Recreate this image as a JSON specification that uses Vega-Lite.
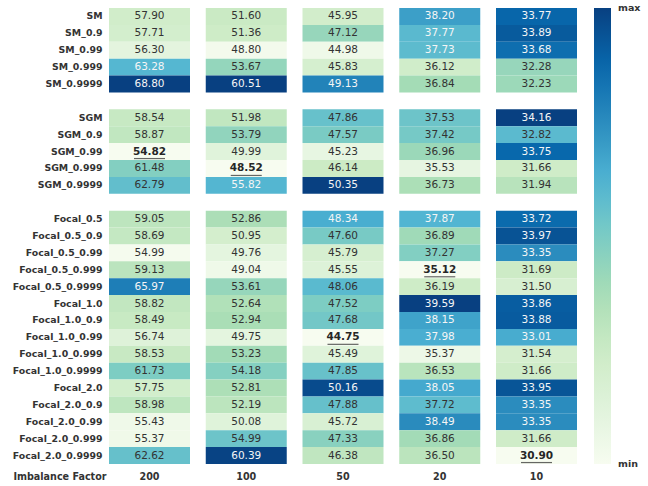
{
  "$schema": "https://vega.github.io/schema/vega-lite/v6.json",
  "padding": {"left": 12, "top": 8, "right": 5, "bottom": 5},
  "background": "white",
  "config": {"view": {"stroke": null}, "font": "DejaVu Sans"},
  "datasets": {
    "cells": [
      {"m":"SM","f":"200","v":57.90},{"m":"SM","f":"100","v":51.60},{"m":"SM","f":"50","v":45.95},{"m":"SM","f":"20","v":38.20},{"m":"SM","f":"10","v":33.77},
      {"m":"SM_0.9","f":"200","v":57.71},{"m":"SM_0.9","f":"100","v":51.36},{"m":"SM_0.9","f":"50","v":47.12},{"m":"SM_0.9","f":"20","v":37.77},{"m":"SM_0.9","f":"10","v":33.89},
      {"m":"SM_0.99","f":"200","v":56.30},{"m":"SM_0.99","f":"100","v":48.80},{"m":"SM_0.99","f":"50","v":44.98},{"m":"SM_0.99","f":"20","v":37.73},{"m":"SM_0.99","f":"10","v":33.68},
      {"m":"SM_0.999","f":"200","v":63.28},{"m":"SM_0.999","f":"100","v":53.67},{"m":"SM_0.999","f":"50","v":45.83},{"m":"SM_0.999","f":"20","v":36.12},{"m":"SM_0.999","f":"10","v":32.28},
      {"m":"SM_0.9999","f":"200","v":68.80},{"m":"SM_0.9999","f":"100","v":60.51},{"m":"SM_0.9999","f":"50","v":49.13},{"m":"SM_0.9999","f":"20","v":36.84},{"m":"SM_0.9999","f":"10","v":32.23},
      {"m":"SGM","f":"200","v":58.54},{"m":"SGM","f":"100","v":51.98},{"m":"SGM","f":"50","v":47.86},{"m":"SGM","f":"20","v":37.53},{"m":"SGM","f":"10","v":34.16},
      {"m":"SGM_0.9","f":"200","v":58.87},{"m":"SGM_0.9","f":"100","v":53.79},{"m":"SGM_0.9","f":"50","v":47.57},{"m":"SGM_0.9","f":"20","v":37.42},{"m":"SGM_0.9","f":"10","v":32.82},
      {"m":"SGM_0.99","f":"200","v":54.82},{"m":"SGM_0.99","f":"100","v":49.99},{"m":"SGM_0.99","f":"50","v":45.23},{"m":"SGM_0.99","f":"20","v":36.96},{"m":"SGM_0.99","f":"10","v":33.75},
      {"m":"SGM_0.999","f":"200","v":61.48},{"m":"SGM_0.999","f":"100","v":48.52},{"m":"SGM_0.999","f":"50","v":46.14},{"m":"SGM_0.999","f":"20","v":35.53},{"m":"SGM_0.999","f":"10","v":31.66},
      {"m":"SGM_0.9999","f":"200","v":62.79},{"m":"SGM_0.9999","f":"100","v":55.82},{"m":"SGM_0.9999","f":"50","v":50.35},{"m":"SGM_0.9999","f":"20","v":36.73},{"m":"SGM_0.9999","f":"10","v":31.94},
      {"m":"Focal_0.5","f":"200","v":59.05},{"m":"Focal_0.5","f":"100","v":52.86},{"m":"Focal_0.5","f":"50","v":48.34},{"m":"Focal_0.5","f":"20","v":37.87},{"m":"Focal_0.5","f":"10","v":33.72},
      {"m":"Focal_0.5_0.9","f":"200","v":58.69},{"m":"Focal_0.5_0.9","f":"100","v":50.95},{"m":"Focal_0.5_0.9","f":"50","v":47.60},{"m":"Focal_0.5_0.9","f":"20","v":36.89},{"m":"Focal_0.5_0.9","f":"10","v":33.97},
      {"m":"Focal_0.5_0.99","f":"200","v":54.99},{"m":"Focal_0.5_0.99","f":"100","v":49.76},{"m":"Focal_0.5_0.99","f":"50","v":45.79},{"m":"Focal_0.5_0.99","f":"20","v":37.27},{"m":"Focal_0.5_0.99","f":"10","v":33.35},
      {"m":"Focal_0.5_0.999","f":"200","v":59.13},{"m":"Focal_0.5_0.999","f":"100","v":49.04},{"m":"Focal_0.5_0.999","f":"50","v":45.55},{"m":"Focal_0.5_0.999","f":"20","v":35.12},{"m":"Focal_0.5_0.999","f":"10","v":31.69},
      {"m":"Focal_0.5_0.9999","f":"200","v":65.97},{"m":"Focal_0.5_0.9999","f":"100","v":53.61},{"m":"Focal_0.5_0.9999","f":"50","v":48.06},{"m":"Focal_0.5_0.9999","f":"20","v":36.19},{"m":"Focal_0.5_0.9999","f":"10","v":31.50},
      {"m":"Focal_1.0","f":"200","v":58.82},{"m":"Focal_1.0","f":"100","v":52.64},{"m":"Focal_1.0","f":"50","v":47.52},{"m":"Focal_1.0","f":"20","v":39.59},{"m":"Focal_1.0","f":"10","v":33.86},
      {"m":"Focal_1.0_0.9","f":"200","v":58.49},{"m":"Focal_1.0_0.9","f":"100","v":52.94},{"m":"Focal_1.0_0.9","f":"50","v":47.68},{"m":"Focal_1.0_0.9","f":"20","v":38.15},{"m":"Focal_1.0_0.9","f":"10","v":33.88},
      {"m":"Focal_1.0_0.99","f":"200","v":56.74},{"m":"Focal_1.0_0.99","f":"100","v":49.75},{"m":"Focal_1.0_0.99","f":"50","v":44.75},{"m":"Focal_1.0_0.99","f":"20","v":37.98},{"m":"Focal_1.0_0.99","f":"10","v":33.01},
      {"m":"Focal_1.0_0.999","f":"200","v":58.53},{"m":"Focal_1.0_0.999","f":"100","v":53.23},{"m":"Focal_1.0_0.999","f":"50","v":45.49},{"m":"Focal_1.0_0.999","f":"20","v":35.37},{"m":"Focal_1.0_0.999","f":"10","v":31.54},
      {"m":"Focal_1.0_0.9999","f":"200","v":61.73},{"m":"Focal_1.0_0.9999","f":"100","v":54.18},{"m":"Focal_1.0_0.9999","f":"50","v":47.85},{"m":"Focal_1.0_0.9999","f":"20","v":36.53},{"m":"Focal_1.0_0.9999","f":"10","v":31.66},
      {"m":"Focal_2.0","f":"200","v":57.75},{"m":"Focal_2.0","f":"100","v":52.81},{"m":"Focal_2.0","f":"50","v":50.16},{"m":"Focal_2.0","f":"20","v":38.05},{"m":"Focal_2.0","f":"10","v":33.95},
      {"m":"Focal_2.0_0.9","f":"200","v":58.98},{"m":"Focal_2.0_0.9","f":"100","v":52.19},{"m":"Focal_2.0_0.9","f":"50","v":47.88},{"m":"Focal_2.0_0.9","f":"20","v":37.72},{"m":"Focal_2.0_0.9","f":"10","v":33.35},
      {"m":"Focal_2.0_0.99","f":"200","v":55.43},{"m":"Focal_2.0_0.99","f":"100","v":50.08},{"m":"Focal_2.0_0.99","f":"50","v":45.72},{"m":"Focal_2.0_0.99","f":"20","v":38.49},{"m":"Focal_2.0_0.99","f":"10","v":33.35},
      {"m":"Focal_2.0_0.999","f":"200","v":55.37},{"m":"Focal_2.0_0.999","f":"100","v":54.99},{"m":"Focal_2.0_0.999","f":"50","v":47.33},{"m":"Focal_2.0_0.999","f":"20","v":36.86},{"m":"Focal_2.0_0.999","f":"10","v":31.66},
      {"m":"Focal_2.0_0.9999","f":"200","v":62.62},{"m":"Focal_2.0_0.9999","f":"100","v":60.39},{"m":"Focal_2.0_0.9999","f":"50","v":46.38},{"m":"Focal_2.0_0.9999","f":"20","v":36.50},{"m":"Focal_2.0_0.9999","f":"10","v":30.90}
    ]
  },
  "data": {"name": "cells"},
  "spacing": 15.75,
  "resolve": {"scale": {"color": "independent", "x": "independent", "y": "independent"}, "legend": {"color": "independent"}},
  "hconcat": [
    {
      "width": 81, "height": 456,
      "transform": [{"filter": "datum.f == '200'"}, {"joinaggregate": [{"op": "min", "field": "v", "as": "vmin"}]}],
      "encoding": {
        "x": {"field": "f", "type": "nominal", "scale": {"paddingInner": 0, "paddingOuter": 0},
              "axis": {"title": "Imbalance Factor", "titleX": -3, "titleY": 12.5, "titleAlign": "right", "titleBaseline": "middle", "titleFont": "DejaVu Sans", "titleFontSize": 9.6, "titleFontWeight": "bold", "titleColor": "#333333", "labelAngle": 0, "labelFont": "DejaVu Sans", "labelFontSize": 9.6, "labelFontWeight": "bold", "labelColor": "#333333", "ticks": false, "domain": false, "labelPadding": 7}},
        "y": {"field": "m", "type": "nominal",
              "scale": {"domain": ["SM","SM_0.9","SM_0.99","SM_0.999","SM_0.9999"," ","SGM","SGM_0.9","SGM_0.99","SGM_0.999","SGM_0.9999","  ","Focal_0.5","Focal_0.5_0.9","Focal_0.5_0.99","Focal_0.5_0.999","Focal_0.5_0.9999","Focal_1.0","Focal_1.0_0.9","Focal_1.0_0.99","Focal_1.0_0.999","Focal_1.0_0.9999","Focal_2.0","Focal_2.0_0.9","Focal_2.0_0.99","Focal_2.0_0.999","Focal_2.0_0.9999"], "paddingInner": 0, "paddingOuter": 0},
              "axis": {"title": null, "labelFont": "DejaVu Sans", "labelFontSize": 9.4, "labelFontWeight": "bold", "labelColor": "#333333", "ticks": false, "domain": false, "labelPadding": 7}}
      },
      "layer": [
        {"mark": {"type": "rect"}, "encoding": {"color": {"field": "v", "type": "quantitative", "legend": null, "scale": {"type": "linear", "zero": false, "nice": false, "interpolate": "rgb", "range": ["#f7fcf0","#e0f3db","#ccebc5","#a8ddb5","#7bccc4","#4eb3d3","#2b8cbe","#0868ac","#084081"]}}}},
        {"transform": [{"filter": "datum.v != datum.vmin"}], "mark": {"type": "text", "font": "DejaVu Sans", "fontSize": 10.5}, "encoding": {"text": {"field": "v", "type": "quantitative", "format": ".2f"}, "color": {"condition": {"test": "datum.v >= 63.0", "value": "#f5f5f5"}, "value": "#333333"}}},
        {"transform": [{"filter": "datum.v == datum.vmin"}], "mark": {"type": "text", "font": "DejaVu Sans", "fontSize": 10.5, "fontWeight": "bold", "color": "#262626"}, "encoding": {"text": {"field": "v", "type": "quantitative", "format": ".2f"}}},
        {"transform": [{"filter": "datum.v == datum.vmin"}], "mark": {"type": "tick", "orient": "horizontal", "size": 31, "thickness": 1.2, "yOffset": 7, "color": "#262626"}, "encoding": {}}
      ]
    },
    {
      "width": 81, "height": 456,
      "transform": [{"filter": "datum.f == '100'"}, {"joinaggregate": [{"op": "min", "field": "v", "as": "vmin"}]}],
      "encoding": {
        "x": {"field": "f", "type": "nominal", "scale": {"paddingInner": 0, "paddingOuter": 0},
              "axis": {"title": null, "labelAngle": 0, "labelFont": "DejaVu Sans", "labelFontSize": 9.6, "labelFontWeight": "bold", "labelColor": "#333333", "ticks": false, "domain": false, "labelPadding": 7}},
        "y": {"field": "m", "type": "nominal",
              "scale": {"domain": ["SM","SM_0.9","SM_0.99","SM_0.999","SM_0.9999"," ","SGM","SGM_0.9","SGM_0.99","SGM_0.999","SGM_0.9999","  ","Focal_0.5","Focal_0.5_0.9","Focal_0.5_0.99","Focal_0.5_0.999","Focal_0.5_0.9999","Focal_1.0","Focal_1.0_0.9","Focal_1.0_0.99","Focal_1.0_0.999","Focal_1.0_0.9999","Focal_2.0","Focal_2.0_0.9","Focal_2.0_0.99","Focal_2.0_0.999","Focal_2.0_0.9999"], "paddingInner": 0, "paddingOuter": 0},
              "axis": null}
      },
      "layer": [
        {"mark": {"type": "rect"}, "encoding": {"color": {"field": "v", "type": "quantitative", "legend": null, "scale": {"type": "linear", "zero": false, "nice": false, "interpolate": "rgb", "range": ["#f7fcf0","#e0f3db","#ccebc5","#a8ddb5","#7bccc4","#4eb3d3","#2b8cbe","#0868ac","#084081"]}}}},
        {"transform": [{"filter": "datum.v != datum.vmin"}], "mark": {"type": "text", "font": "DejaVu Sans", "fontSize": 10.5}, "encoding": {"text": {"field": "v", "type": "quantitative", "format": ".2f"}, "color": {"condition": {"test": "datum.v >= 55.5", "value": "#f5f5f5"}, "value": "#333333"}}},
        {"transform": [{"filter": "datum.v == datum.vmin"}], "mark": {"type": "text", "font": "DejaVu Sans", "fontSize": 10.5, "fontWeight": "bold", "color": "#262626"}, "encoding": {"text": {"field": "v", "type": "quantitative", "format": ".2f"}}},
        {"transform": [{"filter": "datum.v == datum.vmin"}], "mark": {"type": "tick", "orient": "horizontal", "size": 31, "thickness": 1.2, "yOffset": 7, "color": "#262626"}, "encoding": {}}
      ]
    },
    {
      "width": 81, "height": 456,
      "transform": [{"filter": "datum.f == '50'"}, {"joinaggregate": [{"op": "min", "field": "v", "as": "vmin"}]}],
      "encoding": {
        "x": {"field": "f", "type": "nominal", "scale": {"paddingInner": 0, "paddingOuter": 0},
              "axis": {"title": null, "labelAngle": 0, "labelFont": "DejaVu Sans", "labelFontSize": 9.6, "labelFontWeight": "bold", "labelColor": "#333333", "ticks": false, "domain": false, "labelPadding": 7}},
        "y": {"field": "m", "type": "nominal",
              "scale": {"domain": ["SM","SM_0.9","SM_0.99","SM_0.999","SM_0.9999"," ","SGM","SGM_0.9","SGM_0.99","SGM_0.999","SGM_0.9999","  ","Focal_0.5","Focal_0.5_0.9","Focal_0.5_0.99","Focal_0.5_0.999","Focal_0.5_0.9999","Focal_1.0","Focal_1.0_0.9","Focal_1.0_0.99","Focal_1.0_0.999","Focal_1.0_0.9999","Focal_2.0","Focal_2.0_0.9","Focal_2.0_0.99","Focal_2.0_0.999","Focal_2.0_0.9999"], "paddingInner": 0, "paddingOuter": 0},
              "axis": null}
      },
      "layer": [
        {"mark": {"type": "rect"}, "encoding": {"color": {"field": "v", "type": "quantitative", "legend": null, "scale": {"type": "linear", "zero": false, "nice": false, "interpolate": "rgb", "range": ["#f7fcf0","#e0f3db","#ccebc5","#a8ddb5","#7bccc4","#4eb3d3","#2b8cbe","#0868ac","#084081"]}}}},
        {"transform": [{"filter": "datum.v != datum.vmin"}], "mark": {"type": "text", "font": "DejaVu Sans", "fontSize": 10.5}, "encoding": {"text": {"field": "v", "type": "quantitative", "format": ".2f"}, "color": {"condition": {"test": "datum.v >= 48.2", "value": "#f5f5f5"}, "value": "#333333"}}},
        {"transform": [{"filter": "datum.v == datum.vmin"}], "mark": {"type": "text", "font": "DejaVu Sans", "fontSize": 10.5, "fontWeight": "bold", "color": "#262626"}, "encoding": {"text": {"field": "v", "type": "quantitative", "format": ".2f"}}},
        {"transform": [{"filter": "datum.v == datum.vmin"}], "mark": {"type": "tick", "orient": "horizontal", "size": 31, "thickness": 1.2, "yOffset": 7, "color": "#262626"}, "encoding": {}}
      ]
    },
    {
      "width": 81, "height": 456,
      "transform": [{"filter": "datum.f == '20'"}, {"joinaggregate": [{"op": "min", "field": "v", "as": "vmin"}]}],
      "encoding": {
        "x": {"field": "f", "type": "nominal", "scale": {"paddingInner": 0, "paddingOuter": 0},
              "axis": {"title": null, "labelAngle": 0, "labelFont": "DejaVu Sans", "labelFontSize": 9.6, "labelFontWeight": "bold", "labelColor": "#333333", "ticks": false, "domain": false, "labelPadding": 7}},
        "y": {"field": "m", "type": "nominal",
              "scale": {"domain": ["SM","SM_0.9","SM_0.99","SM_0.999","SM_0.9999"," ","SGM","SGM_0.9","SGM_0.99","SGM_0.999","SGM_0.9999","  ","Focal_0.5","Focal_0.5_0.9","Focal_0.5_0.99","Focal_0.5_0.999","Focal_0.5_0.9999","Focal_1.0","Focal_1.0_0.9","Focal_1.0_0.99","Focal_1.0_0.999","Focal_1.0_0.9999","Focal_2.0","Focal_2.0_0.9","Focal_2.0_0.99","Focal_2.0_0.999","Focal_2.0_0.9999"], "paddingInner": 0, "paddingOuter": 0},
              "axis": null}
      },
      "layer": [
        {"mark": {"type": "rect"}, "encoding": {"color": {"field": "v", "type": "quantitative", "legend": null, "scale": {"type": "linear", "zero": false, "nice": false, "interpolate": "rgb", "range": ["#f7fcf0","#e0f3db","#ccebc5","#a8ddb5","#7bccc4","#4eb3d3","#2b8cbe","#0868ac","#084081"]}}}},
        {"transform": [{"filter": "datum.v != datum.vmin"}], "mark": {"type": "text", "font": "DejaVu Sans", "fontSize": 10.5}, "encoding": {"text": {"field": "v", "type": "quantitative", "format": ".2f"}, "color": {"condition": {"test": "datum.v >= 37.725", "value": "#f5f5f5"}, "value": "#333333"}}},
        {"transform": [{"filter": "datum.v == datum.vmin"}], "mark": {"type": "text", "font": "DejaVu Sans", "fontSize": 10.5, "fontWeight": "bold", "color": "#262626"}, "encoding": {"text": {"field": "v", "type": "quantitative", "format": ".2f"}}},
        {"transform": [{"filter": "datum.v == datum.vmin"}], "mark": {"type": "tick", "orient": "horizontal", "size": 31, "thickness": 1.2, "yOffset": 7, "color": "#262626"}, "encoding": {}}
      ]
    },
    {
      "width": 81, "height": 456,
      "transform": [{"filter": "datum.f == '10'"}, {"joinaggregate": [{"op": "min", "field": "v", "as": "vmin"}]}],
      "encoding": {
        "x": {"field": "f", "type": "nominal", "scale": {"paddingInner": 0, "paddingOuter": 0},
              "axis": {"title": null, "labelAngle": 0, "labelFont": "DejaVu Sans", "labelFontSize": 9.6, "labelFontWeight": "bold", "labelColor": "#333333", "ticks": false, "domain": false, "labelPadding": 7}},
        "y": {"field": "m", "type": "nominal",
              "scale": {"domain": ["SM","SM_0.9","SM_0.99","SM_0.999","SM_0.9999"," ","SGM","SGM_0.9","SGM_0.99","SGM_0.999","SGM_0.9999","  ","Focal_0.5","Focal_0.5_0.9","Focal_0.5_0.99","Focal_0.5_0.999","Focal_0.5_0.9999","Focal_1.0","Focal_1.0_0.9","Focal_1.0_0.99","Focal_1.0_0.999","Focal_1.0_0.9999","Focal_2.0","Focal_2.0_0.9","Focal_2.0_0.99","Focal_2.0_0.999","Focal_2.0_0.9999"], "paddingInner": 0, "paddingOuter": 0},
              "axis": null}
      },
      "layer": [
        {"mark": {"type": "rect"}, "encoding": {"color": {"field": "v", "type": "quantitative",
          "legend": {"title": null, "orient": "right", "direction": "vertical", "offset": 17, "values": [30.9, 34.16], "labelExpr": "datum.value > 32 ? 'max' : 'min'", "gradientLength": 456, "gradientThickness": 17, "gradientStrokeWidth": 0, "labelFont": "DejaVu Sans", "labelFontSize": 9.5, "labelFontWeight": "bold", "labelColor": "#333333", "labelOffset": 7, "labelOverlap": false,
                     "encode": {"labels": {"update": {"baseline": {"value": "middle"}}}}},
          "scale": {"type": "linear", "zero": false, "nice": false, "interpolate": "rgb", "range": ["#f7fcf0","#e0f3db","#ccebc5","#a8ddb5","#7bccc4","#4eb3d3","#2b8cbe","#0868ac","#084081"]}}}},
        {"transform": [{"filter": "datum.v != datum.vmin"}], "mark": {"type": "text", "font": "DejaVu Sans", "fontSize": 10.5}, "encoding": {"text": {"field": "v", "type": "quantitative", "format": ".2f"}, "color": {"condition": {"test": "datum.v >= 32.9", "value": "#f5f5f5"}, "value": "#333333"}}},
        {"transform": [{"filter": "datum.v == datum.vmin"}], "mark": {"type": "text", "font": "DejaVu Sans", "fontSize": 10.5, "fontWeight": "bold", "color": "#262626"}, "encoding": {"text": {"field": "v", "type": "quantitative", "format": ".2f"}}},
        {"transform": [{"filter": "datum.v == datum.vmin"}], "mark": {"type": "tick", "orient": "horizontal", "size": 31, "thickness": 1.2, "yOffset": 7, "color": "#262626"}, "encoding": {}}
      ]
    }
  ]
}
